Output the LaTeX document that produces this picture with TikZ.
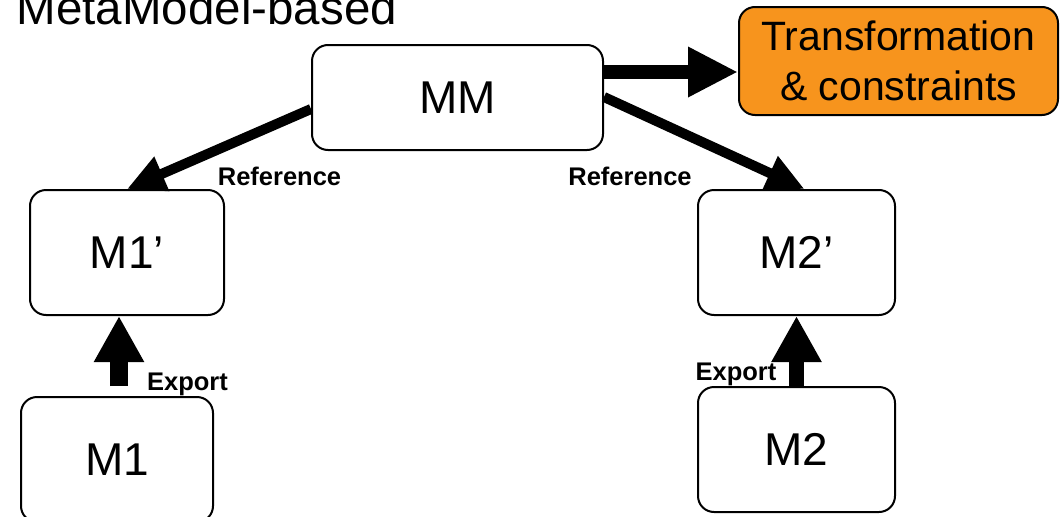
\documentclass[tikz,border=0pt]{standalone}
\usepackage{fontspec}
\setmainfont{Liberation Sans}
\usetikzlibrary{arrows.meta,calc}
\definecolor{tforange}{RGB}{247,148,29}
\begin{document}
\begin{tikzpicture}[x=1pt,y=-1pt,
  model/.style={draw=black, line width=2pt, rounded corners=16pt, fill=white,
    inner sep=0pt, align=center, font=\fontsize{46}{52}\selectfont},
  tbox/.style={model, fill=tforange, font=\fontsize{41}{50}\selectfont},
  lbl/.style={anchor=base, inner sep=0pt, font=\fontsize{25.5}{30}\selectfont\bfseries},
  fatarrow/.style={line width=14pt, -{Triangle[length=50pt,width=47pt]}},
  refarrow/.style={line width=10pt, -{Triangle[length=38pt,width=35pt]}},
  exparrow/.style={line width=#1, -{Triangle[length=46pt,width=47pt]}},
]
\useasboundingbox (0,0) rectangle (1061,517);

% title
\node[anchor=base west, inner sep=0pt, font=\fontsize{47.5}{52}\selectfont]
  (title) at (16.5,24) {MetaModel-based};

% models
\node[model, minimum width=291pt, minimum height=105pt] (MM) at (457.5,97.5) {MM};
\node[tbox, minimum width=319pt, minimum height=108pt] (TC) at (898.5,61)
  {Transformation\\\& constraints};
\node[model, minimum width=194pt, minimum height=125pt] (M1p) at (127,252.5) {M1’};
\node[model, minimum width=192pt, minimum height=125pt] (M1) at (117,459.5) {M1};
\node[model, minimum width=197pt, minimum height=125pt] (M2p) at (796.5,252.5) {M2’};
\node[model, minimum width=197pt, minimum height=125pt] (M2) at (796.5,449.5) {M2};

% connectors
\coordinate (mmout) at ([yshift=25.5pt]MM.east);
\draw[fatarrow] (mmout) -- (mmout -| TC.west);

\draw[refarrow] ([yshift=-11.5pt]MM.west) -- (M1p.north);
\draw[refarrow] ([yshift=0.5pt]MM.east) -- ([xshift=8pt]M2p.north);

\coordinate (exp1) at ([xshift=2pt,yshift=10pt]M1.north);
\draw[exparrow=18pt] (exp1) -- (exp1 |- M1p.south);
\draw[exparrow=15pt] (M2.north) -- (M2p.south);

% labels
\node[lbl] (ref1) at (279.5,185) {Reference};
\node[lbl] (ref2) at (630,185) {Reference};
\node[lbl] (exp1lbl) at (187.5,390) {Export};
\node[lbl] (exp2lbl) at (736,380) {Export};
\end{tikzpicture}
\end{document}
